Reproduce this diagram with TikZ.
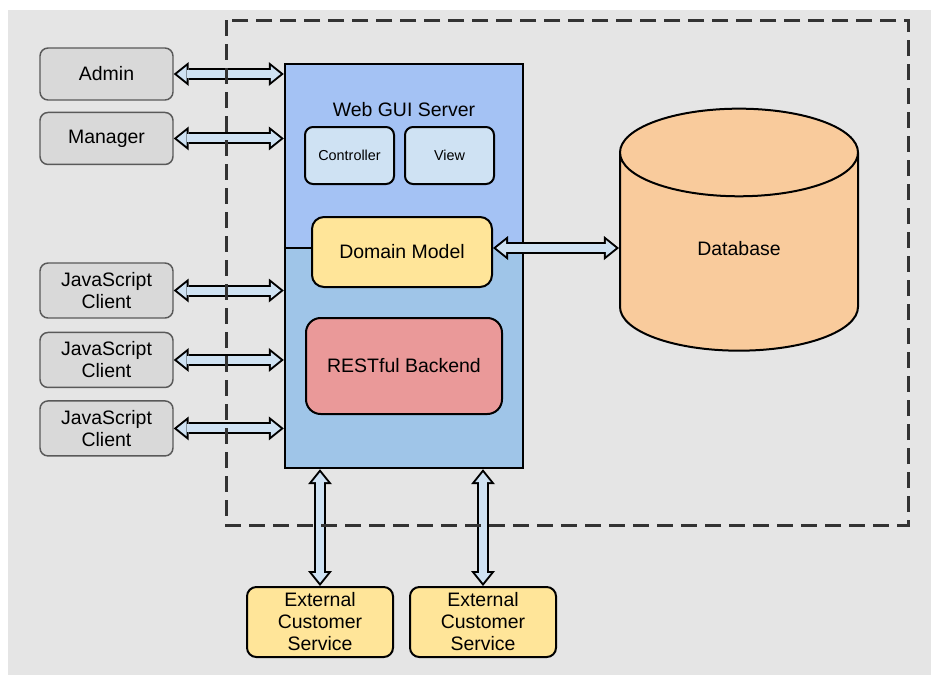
\documentclass[tikz,border=0pt]{standalone}
\usepackage{fontspec}
\setmainfont{Liberation Sans}
\usetikzlibrary{arrows.meta,positioning,shapes.geometric}

\definecolor{canvas}{HTML}{E5E5E5}
\definecolor{usergray}{HTML}{D9D9D9}
\definecolor{guiblue}{HTML}{A4C2F4}
\definecolor{restblue}{HTML}{9FC5E8}
\definecolor{paleblue}{HTML}{CFE2F3}
\definecolor{modelyellow}{HTML}{FFE599}
\definecolor{backendred}{HTML}{EA9999}
\definecolor{dborange}{HTML}{F9CB9C}
\definecolor{framegray}{HTML}{333333}

\begin{document}
\begin{tikzpicture}[
    x=0.75pt, y=-0.75pt,
    font=\fontsize{14.6}{16.5}\selectfont,
    client/.style={draw=black!65, line width=1.1pt, rounded corners=6pt, fill=usergray, minimum width=99.75pt, minimum height=39pt, align=center, inner sep=1pt},
    part/.style={draw, line width=1.5pt, rounded corners=6pt, fill=paleblue, minimum width=66.75pt, minimum height=42.75pt, font=\fontsize{10.8}{13}\selectfont},
    box/.style={draw, line width=1.5pt, rounded corners=9pt, align=center, inner sep=1pt},
    biarrow/.style={line width=9pt, draw=black,
        {Triangle[length=11.25pt,width=18pt,line width=0pt]}-{Triangle[length=11.25pt,width=18pt,line width=0pt]},
        postaction={draw=paleblue, line width=6pt,
        {Triangle[length=7.35pt,width=11.8pt,line width=0pt]}-{Triangle[length=7.35pt,width=11.8pt,line width=0pt]},
        shorten <=2.4pt, shorten >=2.4pt}}
]
\useasboundingbox (0,0) rectangle (931,675);
\fill[white] (0,0) rectangle (931,675);
\fill[canvas] (8,10) rectangle (931,675);

% users on the left
\node[client] (admin) at (106.5,74) {Admin};
\node[client, below=8.25pt of admin] (manager) {Manager};
\node[client, minimum height=41.25pt] (js1) at (106.5,290.5) {JavaScript\\Client};
\node[client, minimum height=41.25pt, below=9.75pt of js1] (js2) {JavaScript\\Client};
\node[client, minimum height=41.25pt, below=9pt of js2] (js3) {JavaScript\\Client};

% server
\node[draw, line width=1.8pt, fill=restblue, minimum width=178.5pt, minimum height=303pt, inner sep=0pt,
    path picture={\fill[guiblue] (path picture bounding box.north west) rectangle ([yshift=13.5pt]path picture bounding box.east);}] (srv) at (404,266) {};
\node (guititle) at (404,110) {Web GUI Server};
\node[part] (ctrl) at (349.5,155.5) {Controller};
\node[part, right=6.75pt of ctrl] (view) {View};
\node[box, fill=modelyellow, minimum width=135pt, minimum height=52.5pt] (dm) at (402,252) {Domain Model};
\node[box, fill=backendred, minimum width=147pt, minimum height=72pt, rounded corners=11pt] (rest) at (404,366) {RESTful Backend};
\draw[line width=2.2pt] ([yshift=3pt]dm.west -| srv.west) -- ([yshift=3pt]dm.west);

% database
\node[cylinder, shape border rotate=90, aspect=0.95, draw, line width=1.5pt, fill=dborange,
    minimum width=178.5pt, minimum height=181.5pt, text depth=15pt] (db) at (739,258) {Database};

% external services
\node[box, fill=modelyellow, minimum width=109.5pt, minimum height=52.5pt, rounded corners=7pt] (ext1) at (320,622) {External\\Customer\\Service};
\node[box, fill=modelyellow, minimum width=109.5pt, minimum height=52.5pt, rounded corners=7pt, right=11.25pt of ext1] (ext2) {External\\Customer\\Service};

% links
\draw[biarrow] (admin.east) -- (admin.east -| srv.west);
\draw[biarrow] (manager.east) -- (manager.east -| srv.west);
\draw[biarrow] (js1.east) -- (js1.east -| srv.west);
\draw[biarrow] (js2.east) -- (js2.east -| srv.west);
\draw[biarrow] (js3.east) -- (js3.east -| srv.west);
\draw[biarrow] ([yshift=3pt]dm.east) -- ([yshift=3pt]dm.east -| db.west);
\draw[biarrow] (ext1.north |- srv.south) -- (ext1.north);
\draw[biarrow] (ext2.north |- srv.south) -- (ext2.north);

% system boundary
\draw[framegray, line width=2.25pt, dash pattern=on 12pt off 6pt] (226,20) rectangle (908,525);
\end{tikzpicture}
\end{document}
